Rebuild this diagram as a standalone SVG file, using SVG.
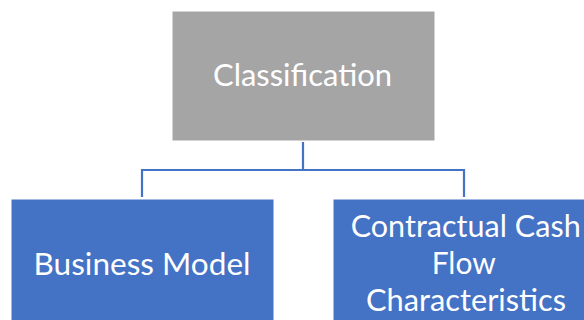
<svg xmlns="http://www.w3.org/2000/svg" width="584" height="320" viewBox="0 0 584 320">
  <style>
    .box { stroke: #ffffff; stroke-width: 1; }
    .grey { fill: #a5a5a5; }
    .blue { fill: #4472c4; }
    .label { font-family: "Lato", "Open Sans", "Liberation Sans", sans-serif; font-size: 31px; fill: #ffffff; }
    .link { fill: none; stroke: #4472c4; stroke-width: 2.2; }
  </style>
  <rect width="584" height="320" fill="#ffffff"/>

  <g id="connectors">
    <path class="link" d="M303 142 V170 M142 197 V170 H464 V197"/>
  </g>

  <g id="classification">
    <rect class="box grey" x="172" y="11" width="263" height="130"/>
    <text class="label" x="213" y="86" textLength="179" lengthAdjust="spacingAndGlyphs">Classification</text>
  </g>

  <g id="business-model">
    <rect class="box blue" x="11" y="199" width="263" height="130"/>
    <text class="label" x="33.5" y="275" textLength="217" lengthAdjust="spacingAndGlyphs">Business Model</text>
  </g>

  <g id="cash-flow">
    <rect class="box blue" x="333" y="199" width="263" height="130"/>
    <text class="label" x="350.7" y="237" textLength="230" lengthAdjust="spacingAndGlyphs">Contractual Cash</text>
    <text class="label" x="431.7" y="274" textLength="64" lengthAdjust="spacingAndGlyphs">Flow</text>
    <text class="label" x="366" y="311" textLength="200" lengthAdjust="spacingAndGlyphs">Characteristics</text>
  </g>
</svg>
